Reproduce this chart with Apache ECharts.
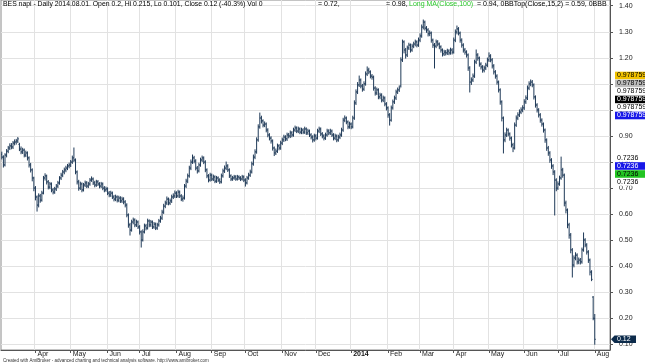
<!DOCTYPE html>
<html><head><meta charset="utf-8">
<script src="https://cdn.jsdelivr.net/npm/echarts@6/dist/echarts.min.js"></script>
<style>html,body{margin:0;padding:0;background:#fff}#c{width:645px;height:364px}</style>
</head><body><div id="c"></div>
<script>
// ---------------- data ----------------
const startDate = '2013-03-01';   // first bar (weekday calendar)
const blankBars = 9;              // empty bars on the right
const monthNames = ['Jan','Feb','Mar','Apr','May','Jun','Jul','Aug','Sep','Oct','Nov','Dec'];
const yTicks = [0.1,0.2,0.3,0.4,0.5,0.6,0.7,0.8,0.9,1.0,1.1,1.2,1.3,1.4];
const yMin = 0.0789, yMax = 1.4219;

const open = [
0.830,0.819,0.789,0.827,0.842,0.854,0.862,0.858,0.873,0.877,
0.881,0.868,0.850,0.839,0.846,0.827,0.835,0.816,0.789,0.770,
0.739,0.700,0.666,0.635,0.670,0.654,0.681,0.739,0.747,0.724,
0.704,0.716,0.693,0.685,0.697,0.708,0.720,0.739,0.750,0.762,
0.770,0.777,0.785,0.789,0.800,0.816,0.808,0.762,0.724,0.700,
0.716,0.693,0.712,0.720,0.708,0.716,0.731,0.735,0.720,0.712,
0.724,0.716,0.708,0.716,0.700,0.693,0.697,0.681,0.674,0.681,
0.666,0.658,0.666,0.654,0.662,0.651,0.658,0.647,0.635,0.597,
0.559,0.539,0.570,0.578,0.559,0.570,0.551,0.532,0.501,0.532,
0.555,0.547,0.574,0.559,0.570,0.551,0.562,0.547,0.559,0.574,
0.585,0.608,0.631,0.643,0.658,0.643,0.651,0.666,0.670,0.681,
0.670,0.685,0.670,0.658,0.662,0.708,0.727,0.747,0.777,0.800,
0.816,0.804,0.777,0.766,0.789,0.808,0.816,0.800,0.770,0.747,
0.731,0.750,0.735,0.743,0.727,0.739,0.731,0.724,0.747,0.766,
0.777,0.785,0.770,0.747,0.735,0.739,0.743,0.735,0.743,0.739,
0.735,0.743,0.731,0.720,0.739,0.750,0.762,0.793,0.819,0.839,
0.885,0.935,0.969,0.958,0.942,0.946,0.923,0.904,0.892,0.881,
0.854,0.835,0.842,0.862,0.854,0.873,0.885,0.896,0.889,0.904,
0.900,0.912,0.904,0.923,0.931,0.919,0.927,0.915,0.923,0.915,
0.927,0.912,0.919,0.904,0.896,0.885,0.900,0.892,0.919,0.927,
0.908,0.900,0.892,0.904,0.919,0.912,0.919,0.904,0.892,0.900,
0.885,0.896,0.904,0.923,0.961,0.969,0.954,0.935,0.946,0.935,
0.969,1.027,1.069,1.096,1.115,1.092,1.080,1.100,1.138,1.153,
1.146,1.130,1.126,1.084,1.065,1.077,1.050,1.057,1.038,1.046,
1.023,1.008,0.981,0.961,1.008,1.031,1.046,1.069,1.077,1.092,
1.192,1.261,1.230,1.211,1.238,1.249,1.230,1.245,1.253,1.261,
1.249,1.268,1.284,1.318,1.337,1.314,1.307,1.292,1.295,1.268,
1.249,1.245,1.261,1.253,1.242,1.230,1.215,1.222,1.219,1.226,
1.219,1.230,1.222,1.268,1.299,1.311,1.295,1.268,1.249,1.230,
1.222,1.211,1.161,1.107,1.115,1.130,1.184,1.211,1.199,1.176,
1.165,1.153,1.161,1.172,1.192,1.207,1.192,1.169,1.146,1.130,
1.107,1.077,1.031,0.969,0.885,0.904,0.923,0.908,0.892,0.866,
0.854,0.942,0.969,0.981,0.992,1.000,1.008,1.031,1.046,1.084,
1.100,1.107,1.096,1.050,1.019,1.000,0.981,0.961,0.946,0.923,
0.885,0.854,0.835,0.808,0.785,0.762,0.731,0.700,0.716,0.739,
0.770,0.750,0.643,0.616,0.559,0.520,0.463,0.405,0.432,0.443,
0.417,0.424,0.417,0.463,0.501,0.482,0.455,0.424,0.378,0.282,
0.200];

const high = [
0.838,0.824,0.832,0.848,0.860,0.870,0.871,0.879,0.885,0.887,
0.894,0.872,0.858,0.853,0.850,0.842,0.839,0.820,0.795,0.774,
0.742,0.706,0.670,0.678,0.676,0.688,0.745,0.755,0.750,0.729,
0.722,0.720,0.699,0.703,0.714,0.726,0.744,0.757,0.768,0.777,
0.784,0.791,0.796,0.806,0.823,0.854,0.812,0.766,0.730,0.723,
0.720,0.718,0.727,0.725,0.722,0.737,0.743,0.739,0.726,0.730,
0.729,0.721,0.722,0.720,0.706,0.704,0.701,0.687,0.688,0.685,
0.672,0.673,0.670,0.669,0.667,0.665,0.663,0.652,0.640,0.601,
0.565,0.577,0.585,0.582,0.577,0.574,0.556,0.536,0.540,0.562,
0.561,0.581,0.578,0.576,0.574,0.568,0.566,0.565,0.580,0.592,
0.615,0.638,0.650,0.666,0.662,0.658,0.673,0.678,0.689,0.686,
0.692,0.689,0.675,0.670,0.714,0.734,0.754,0.784,0.808,0.827,
0.822,0.809,0.783,0.796,0.815,0.823,0.820,0.805,0.774,0.752,
0.757,0.754,0.750,0.747,0.745,0.743,0.736,0.754,0.773,0.785,
0.800,0.790,0.774,0.751,0.745,0.749,0.748,0.749,0.747,0.744,
0.749,0.747,0.736,0.745,0.757,0.769,0.800,0.827,0.847,0.893,
0.943,0.988,0.976,0.962,0.954,0.950,0.928,0.909,0.897,0.885,
0.858,0.850,0.869,0.867,0.880,0.892,0.903,0.901,0.911,0.910,
0.919,0.917,0.930,0.938,0.935,0.934,0.931,0.930,0.928,0.934,
0.931,0.926,0.923,0.909,0.901,0.907,0.905,0.926,0.934,0.931,
0.913,0.905,0.911,0.926,0.924,0.926,0.923,0.909,0.907,0.904,
0.903,0.911,0.930,0.968,0.977,0.973,0.958,0.953,0.950,0.976,
1.035,1.077,1.105,1.130,1.119,1.098,1.108,1.146,1.165,1.160,
1.150,1.136,1.130,1.089,1.084,1.081,1.064,1.062,1.053,1.050,
1.028,1.012,0.986,1.015,1.038,1.053,1.076,1.084,1.092,1.200,
1.268,1.265,1.236,1.245,1.256,1.253,1.252,1.260,1.268,1.265,
1.276,1.292,1.326,1.345,1.341,1.320,1.312,1.303,1.299,1.272,
1.255,1.268,1.266,1.257,1.246,1.234,1.229,1.228,1.233,1.231,
1.237,1.235,1.276,1.307,1.322,1.316,1.299,1.273,1.254,1.236,
1.227,1.215,1.166,1.123,1.138,1.191,1.230,1.216,1.203,1.181,
1.170,1.168,1.179,1.199,1.219,1.212,1.197,1.174,1.151,1.135,
1.111,1.081,1.035,0.973,0.912,0.930,0.927,0.912,0.896,0.872,
0.950,0.977,0.989,1.000,1.008,1.016,1.039,1.054,1.092,1.108,
1.115,1.113,1.100,1.054,1.024,1.005,0.986,0.966,0.950,0.927,
0.889,0.860,0.840,0.813,0.790,0.767,0.736,0.724,0.746,0.819,
0.776,0.754,0.650,0.620,0.565,0.526,0.468,0.440,0.452,0.448,
0.432,0.430,0.470,0.528,0.506,0.487,0.460,0.428,0.383,0.284,
0.215];

const low = [
0.812,0.781,0.785,0.820,0.836,0.848,0.851,0.852,0.866,0.869,
0.875,0.844,0.832,0.833,0.820,0.821,0.808,0.781,0.762,0.728,
0.690,0.655,0.612,0.628,0.646,0.650,0.678,0.731,0.716,0.697,
0.698,0.686,0.678,0.680,0.691,0.702,0.715,0.733,0.744,0.755,
0.763,0.771,0.778,0.783,0.795,0.802,0.755,0.716,0.692,0.695,
0.686,0.689,0.706,0.702,0.702,0.711,0.726,0.714,0.705,0.707,
0.710,0.701,0.702,0.694,0.686,0.688,0.675,0.667,0.668,0.660,
0.651,0.652,0.647,0.648,0.645,0.645,0.640,0.628,0.590,0.550,
0.520,0.535,0.563,0.552,0.553,0.545,0.524,0.474,0.497,0.528,
0.540,0.543,0.552,0.553,0.545,0.546,0.541,0.542,0.554,0.569,
0.580,0.603,0.625,0.637,0.636,0.637,0.645,0.660,0.664,0.664,
0.665,0.664,0.652,0.650,0.658,0.702,0.721,0.742,0.771,0.795,
0.797,0.770,0.758,0.762,0.784,0.802,0.794,0.763,0.740,0.724,
0.727,0.729,0.729,0.721,0.722,0.725,0.718,0.720,0.742,0.760,
0.771,0.764,0.741,0.729,0.730,0.734,0.730,0.731,0.733,0.729,
0.731,0.725,0.708,0.716,0.734,0.745,0.758,0.788,0.813,0.834,
0.880,0.930,0.950,0.935,0.936,0.916,0.897,0.885,0.873,0.846,
0.825,0.829,0.837,0.847,0.849,0.867,0.879,0.882,0.883,0.893,
0.894,0.897,0.899,0.917,0.913,0.913,0.909,0.909,0.909,0.910,
0.906,0.906,0.898,0.889,0.877,0.880,0.885,0.888,0.913,0.902,
0.893,0.885,0.887,0.899,0.905,0.906,0.898,0.885,0.886,0.878,
0.880,0.890,0.899,0.918,0.955,0.947,0.928,0.930,0.928,0.931,
0.964,1.021,1.063,1.090,1.085,1.072,1.075,1.095,1.132,1.139,
1.123,1.118,1.076,1.057,1.059,1.043,1.043,1.031,1.032,1.016,
1.000,0.972,0.942,0.957,1.003,1.025,1.040,1.063,1.071,1.088,
1.186,1.219,1.199,1.205,1.232,1.222,1.225,1.239,1.246,1.242,
1.244,1.262,1.279,1.311,1.307,1.298,1.284,1.285,1.260,1.240,
1.161,1.239,1.246,1.235,1.222,1.207,1.209,1.211,1.213,1.212,
1.214,1.215,1.218,1.262,1.292,1.288,1.260,1.241,1.222,1.214,
1.203,1.152,1.069,1.098,1.109,1.125,1.178,1.191,1.168,1.157,
1.145,1.146,1.155,1.166,1.186,1.185,1.161,1.138,1.122,1.099,
1.069,1.022,0.958,0.835,0.878,0.898,0.901,0.884,0.858,0.840,
0.850,0.937,0.963,0.975,0.986,0.993,1.002,1.025,1.040,1.078,
1.093,1.089,1.042,1.011,0.992,0.973,0.953,0.938,0.915,0.876,
0.845,0.826,0.799,0.776,0.752,0.597,0.690,0.695,0.711,0.734,
0.742,0.632,0.605,0.548,0.508,0.452,0.359,0.398,0.425,0.409,
0.410,0.409,0.412,0.458,0.475,0.447,0.415,0.367,0.345,0.195,
0.101];

const close = [
0.819,0.789,0.827,0.842,0.854,0.862,0.858,0.873,0.877,0.881,
0.889,0.850,0.839,0.846,0.827,0.835,0.816,0.789,0.770,0.739,
0.700,0.666,0.635,0.670,0.654,0.681,0.739,0.747,0.724,0.704,
0.716,0.693,0.685,0.697,0.708,0.720,0.739,0.750,0.762,0.770,
0.777,0.785,0.789,0.800,0.816,0.808,0.762,0.724,0.700,0.716,
0.693,0.712,0.720,0.708,0.716,0.731,0.735,0.720,0.712,0.724,
0.716,0.708,0.716,0.700,0.693,0.697,0.681,0.674,0.681,0.666,
0.658,0.666,0.654,0.662,0.651,0.658,0.647,0.635,0.597,0.559,
0.539,0.570,0.578,0.559,0.570,0.551,0.532,0.501,0.532,0.555,
0.547,0.574,0.559,0.570,0.551,0.562,0.547,0.559,0.574,0.585,
0.608,0.631,0.643,0.658,0.643,0.651,0.666,0.670,0.681,0.670,
0.685,0.670,0.658,0.662,0.708,0.727,0.747,0.777,0.800,0.816,
0.804,0.777,0.766,0.789,0.808,0.816,0.800,0.770,0.747,0.731,
0.750,0.735,0.743,0.727,0.739,0.731,0.724,0.747,0.766,0.777,
0.785,0.770,0.747,0.735,0.739,0.743,0.735,0.743,0.739,0.735,
0.743,0.731,0.720,0.739,0.750,0.762,0.793,0.819,0.839,0.885,
0.935,0.969,0.958,0.942,0.946,0.923,0.904,0.892,0.881,0.854,
0.835,0.842,0.862,0.854,0.873,0.885,0.896,0.889,0.904,0.900,
0.912,0.904,0.923,0.931,0.919,0.927,0.915,0.923,0.915,0.927,
0.912,0.919,0.904,0.896,0.885,0.900,0.892,0.919,0.927,0.908,
0.900,0.892,0.904,0.919,0.912,0.919,0.904,0.892,0.900,0.885,
0.896,0.904,0.923,0.961,0.969,0.954,0.935,0.946,0.935,0.969,
1.027,1.069,1.096,1.115,1.092,1.080,1.100,1.138,1.153,1.146,
1.130,1.126,1.084,1.065,1.077,1.050,1.057,1.038,1.046,1.023,
1.008,0.981,0.961,1.008,1.031,1.046,1.069,1.077,1.084,1.192,
1.261,1.230,1.211,1.238,1.249,1.230,1.245,1.253,1.261,1.249,
1.268,1.284,1.318,1.337,1.314,1.307,1.292,1.295,1.268,1.249,
1.245,1.261,1.253,1.242,1.230,1.215,1.222,1.219,1.226,1.219,
1.230,1.222,1.268,1.299,1.311,1.295,1.268,1.249,1.230,1.222,
1.211,1.161,1.107,1.115,1.130,1.184,1.211,1.199,1.176,1.165,
1.153,1.161,1.172,1.192,1.207,1.192,1.169,1.146,1.130,1.107,
1.077,1.031,0.969,0.885,0.904,0.923,0.908,0.892,0.866,0.854,
0.942,0.969,0.981,0.992,1.000,1.008,1.031,1.046,1.084,1.100,
1.107,1.096,1.050,1.019,1.000,0.981,0.961,0.946,0.923,0.885,
0.854,0.835,0.808,0.785,0.762,0.731,0.700,0.716,0.739,0.770,
0.750,0.643,0.616,0.559,0.520,0.463,0.405,0.432,0.443,0.417,
0.424,0.417,0.463,0.501,0.482,0.455,0.424,0.378,0.350,0.201,
0.120];

// values shown in the right-hand value labels
const markerValues = [0.978759, 0.7236, 0.12];

const titleMain = 'BES napi - Daily 2014.08.01. Open 0.2, Hi 0.215, Lo 0.101, Close 0.12 (-40.3%) Vol 0';
// ---------------------------------------

if (!(open.length === close.length && high.length === close.length && low.length === close.length)) {
  throw new Error('length mismatch ' + [open.length, high.length, low.length, close.length].join(','));
}

// weekday calendar
const dates = [];
{
  const d = new Date(startDate + 'T00:00:00Z');
  while (dates.length < close.length + blankBars) {
    const wd = d.getUTCDay();
    if (wd !== 0 && wd !== 6) dates.push(d.toISOString().slice(0, 10));
    d.setUTCDate(d.getUTCDate() + 1);
  }
}
const monthStart = dates.map((s, i) => i > 0 && s.slice(5, 7) !== dates[i - 1].slice(5, 7));
const isTick = (idx) => !!monthStart[idx];
const fmt = (val) => {
  const m = parseInt(val.slice(5, 7), 10) - 1;
  return m === 0 ? '{b|' + val.slice(0, 4) + '}' : monthNames[m];
};

const data = close.map((c, i) => [i, open[i], high[i], low[i], c]);
const barColor = '#1f3a58';
const FONT = '"Liberation Sans", Arial, sans-serif';

function renderItem(params, api) {
  const i = api.value(0);
  const pO = api.coord([i, api.value(1)]);
  const pH = api.coord([i, api.value(2)]);
  const pL = api.coord([i, api.value(3)]);
  const pC = api.coord([i, api.value(4)]);
  const x = pH[0];
  const st = { stroke: barColor, lineWidth: 1 };
  return {
    type: 'group',
    children: [
      { type: 'line', shape: { x1: x, y1: pH[1] - 0.5, x2: x, y2: pL[1] + 0.5 }, style: st },
      { type: 'line', shape: { x1: x - 1, y1: pO[1], x2: x, y2: pO[1] }, style: st },
      { type: 'line', shape: { x1: x, y1: pC[1], x2: x + 1, y2: pC[1] }, style: st }
    ]
  };
}

const chart = echarts.init(document.getElementById('c'), null, { renderer: 'canvas' });
chart.setOption({
  animation: false,
  backgroundColor: '#fff',
  grid: { left: 1, right: 35, top: 0, bottom: 14, show: true, borderColor: '#8a8a8a', borderWidth: 1 },
  xAxis: {
    type: 'category', data: dates, boundaryGap: true,
    axisLine: { lineStyle: { color: '#555', width: 1 } },
    axisTick: { show: true, alignWithLabel: true, interval: isTick, length: 3, lineStyle: { color: '#555' } },
    axisLabel: {
      interval: isTick, formatter: fmt, align: 'left', margin: 1, fontSize: 7, color: '#222',
      fontFamily: FONT, padding: [0, 0, 0, 2],
      rich: { b: { fontWeight: 'bold', fontSize: 7, color: '#111', fontFamily: FONT } }
    },
    splitLine: { show: true, interval: isTick, lineStyle: { color: '#e2e2e2', width: 1 } }
  },
  yAxis: {
    type: 'value', position: 'right', min: yMin, max: yMax, scale: true,
    axisLine: { show: true, lineStyle: { color: '#555', width: 1 } },
    axisTick: { show: true, length: 3, customValues: yTicks, lineStyle: { color: '#555' } },
    axisLabel: { customValues: yTicks, formatter: v => v.toFixed(2), fontSize: 7, margin: 9, color: '#222', fontFamily: FONT },
    splitLine: { show: true, lineStyle: { color: '#e2e2e2', width: 1 } }
  },
  series: [{
    type: 'custom', renderItem, data, clip: true,
    encode: { x: 0, y: [1, 2, 3, 4] }
  }]
});

// ---------- overlay texts ----------
const yPix = v => chart.convertToPixel({ yAxisIndex: 0 }, v);
const g = [];
function txt(text, x, y, opts) {
  g.push(Object.assign({
    type: 'text', z: 100, silent: true,
    style: Object.assign({ text, x, y, fill: '#000', font: '7px ' + FONT, verticalAlign: 'top', align: 'left' }, opts || {})
  }));
}
txt(titleMain, 3, 1, { font: '6.85px ' + FONT });
txt('= 0.72,', 318, 1);
txt('= 0.98,', 386, 1);
txt('Long MA(Close,100)', 409, 1, { fill: '#2ecc2e' });
txt('= 0.94, 0BBTop(Close,15,2) = 0.59, 0BBBot(Close,15,2) = 0.31', 477, 1,
    { width: 132, overflow: 'truncate', ellipsis: '' });
txt('Created with AmiBroker - advanced charting and technical analysis software. http://www.amibroker.com',
    3, 361, { font: '4.5px ' + FONT, verticalAlign: 'middle', fill: '#333' });

function valueBox(text, yc, bg, fg) {
  g.push({ type: 'rect', z: 100, silent: true, shape: { x: 615, y: yc - 3.8, width: 32, height: 7.6 }, style: { fill: bg } });
  txt(text, 617, yc, { verticalAlign: 'middle', fill: fg });
}
const styleA = [['#f2c200', '#000'], ['#bdbdbd', '#000'], ['#fff', '#000'], ['#000', '#fff'], ['#fff', '#000'], ['#1818e8', '#fff']];
const yA = yPix(markerValues[0]);
styleA.forEach((s, k) => valueBox(String(markerValues[0]), yA - (styleA.length - 1 - k) * 8, s[0], s[1]));
const styleB = [['#fff', '#000'], ['#1818e8', '#fff'], ['#22c422', '#000'], ['#fff', '#000']];
const yB = yPix(markerValues[1]);
styleB.forEach((s, k) => valueBox(String(markerValues[1]), yB - (styleB.length - 1 - k) * 8, s[0], s[1]));
const yC = yPix(markerValues[2]);
g.push({ type: 'polygon', z: 100, silent: true,
  shape: { points: [[611, yC], [614.5, yC - 3.8], [636, yC - 3.8], [636, yC + 3.8], [614.5, yC + 3.8]] },
  style: { fill: '#0c2b4b' } });
txt(String(markerValues[2]), 617, yC, { verticalAlign: 'middle', fill: '#fff' });

chart.setOption({ graphic: { elements: g } });
</script></body></html>
